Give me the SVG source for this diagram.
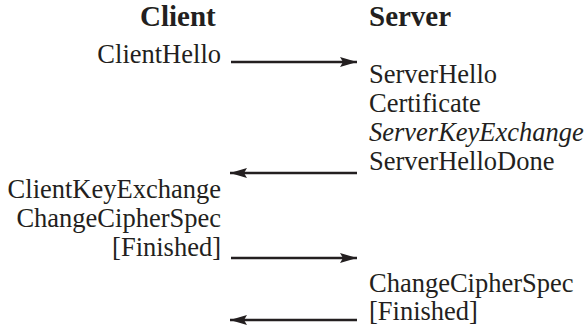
<svg xmlns="http://www.w3.org/2000/svg" width="588" height="332" viewBox="0 0 588 332">
<style>
text{font-family:"Liberation Serif","Times New Roman",serif;font-size:26.5px;fill:#231f20}
.h{font-weight:bold;font-size:29px}
.i{font-style:italic}
.r{text-anchor:end}
.c{stroke:#231f20;stroke-width:2.5;fill:none}
</style>
<defs>
<marker id="ah" markerUnits="userSpaceOnUse" markerWidth="18" markerHeight="12" refX="17" refY="6" orient="auto">
<path d="M0,1 L17,6 L0,11 L3,6 Z" fill="#231f20"/>
</marker>
</defs>
<rect width="588" height="332" fill="#fff"/>
<g id="client">
<text class="h" x="140" y="26">Client</text>
<text x="221" y="63" class="r">ClientHello</text>
<text x="221" y="198" class="r">ClientKeyExchange</text>
<text x="221" y="227" class="r">ChangeCipherSpec</text>
<text x="221" y="256" class="r">[Finished]</text>
</g>
<g id="server">
<text class="h" x="369" y="26">Server</text>
<text x="369" y="83">ServerHello</text>
<text x="369" y="112">Certificate</text>
<text x="369" y="141" class="i">ServerKeyExchange</text>
<text x="369" y="170">ServerHelloDone</text>
<text x="369" y="292">ChangeCipherSpec</text>
<text x="369" y="320">[Finished]</text>
</g>
<g id="connectors">
<line class="c" x1="231" y1="62" x2="357" y2="62" marker-end="url(#ah)"/>
<line class="c" x1="357" y1="173" x2="230" y2="173" marker-end="url(#ah)"/>
<line class="c" x1="231" y1="258" x2="357" y2="258" marker-end="url(#ah)"/>
<line class="c" x1="357" y1="320" x2="230" y2="320" marker-end="url(#ah)"/>
</g>
</svg>
